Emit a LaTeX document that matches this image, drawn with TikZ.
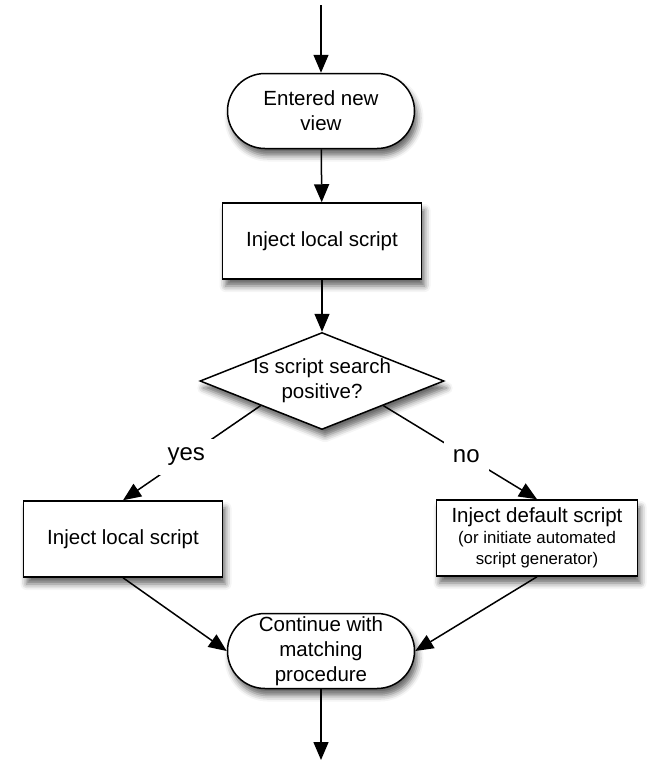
\documentclass[tikz,border=0pt]{standalone}
\usepackage{fontspec}
\setmainfont{Liberation Sans}
\usetikzlibrary{shapes.misc,shapes.geometric,arrows.meta,shadows.blur}

\begin{document}
\begin{tikzpicture}[x=1pt,y=-1pt,
    line width=1.5pt,
    arr/.style={-{Triangle[length=18pt,width=15pt]}},
    shade/.style={blur shadow={shadow xshift=3pt,shadow yshift=-7pt,shadow blur radius=6pt,shadow opacity=60}},
    term/.style={rounded rectangle,draw,fill=white,shade,align=center,minimum width=187pt,minimum height=75pt,inner sep=0pt,font=\fontsize{20.5}{25}\selectfont},
    stepbox/.style={rectangle,draw,fill=white,shade,align=center,minimum width=199pt,minimum height=76pt,inner sep=0pt,font=\fontsize{20.5}{25}\selectfont},
    decide/.style={diamond,draw,fill=white,shade,minimum width=244pt,minimum height=97pt,inner sep=0pt},
    lbl/.style={fill=white,inner sep=9pt,font=\fontsize{24}{28}\selectfont}]
       \useasboundingbox (0,0) rectangle (656,766);
       \coordinate (S) at (321,5);
       \coordinate (E) at (321,760);
       \node[term] (enter) at (321,111) {Entered new\\view};
       \node[stepbox] (inj) at (322,241) {Inject local script};
       \node[decide,label={[align=center,font=\fontsize{20.5}{25}\selectfont]center:Is script search\\positive?}] (dec) at (322,381) {};
       \node[stepbox] (loc) at (123,539) {Inject local script};
       \node[stepbox,minimum width=201pt] (dft) at (537,538) {Inject default script\\[-4pt]{\fontsize{16.8}{21}\selectfont (or initiate automated}\\[-4pt]{\fontsize{16.8}{21}\selectfont script generator)}};
       \node[term] (cont) at (321,651) {Continue with\\matching\\procedure};
       \draw[arr] (S) -- (enter);
       \draw[arr] (enter) -- (inj);
       \draw[arr] (inj) -- (dec);
       \draw[arr] (dec.south west) -- node[lbl,pos=0.54] {yes} (loc.north);
       \draw[arr] (dec.south east) -- node[lbl,pos=0.54] {no} (dft.north);
       \draw[arr] (loc.south) -- (cont.west);
       \draw[arr] (dft.south) -- (cont.east);
       \draw[arr] (cont) -- (E);
     \end{tikzpicture}
\end{document}
